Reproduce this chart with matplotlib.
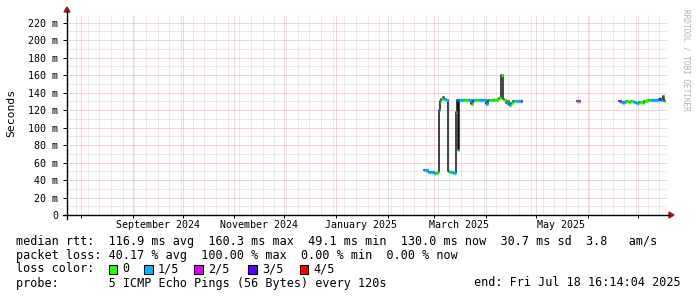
import matplotlib
matplotlib.use("Agg")
import matplotlib.pyplot as plt
import matplotlib.dates as mdates
from matplotlib.patches import Rectangle, Polygon
from matplotlib.lines import Line2D
import pandas as pd
import numpy as np

# ---------------- data ----------------
end_time = pd.Timestamp("2025-07-18 16:14:04")
span_days = 360

dates = [
    "2025-02-23", "2025-02-24", "2025-02-25", "2025-02-26", "2025-02-27", "2025-02-28",
    "2025-03-01", "2025-03-02", "2025-03-03",
    "2025-03-04 00:00", "2025-03-04 12:00", "2025-03-05", "2025-03-06", "2025-03-07", "2025-03-08",
    "2025-03-09", "2025-03-10", "2025-03-11", "2025-03-12", "2025-03-13",
    "2025-03-14 00:00", "2025-03-14 12:00", "2025-03-15 06:00", "2025-03-16",
    "2025-03-17", "2025-03-18", "2025-03-19", "2025-03-20", "2025-03-21", "2025-03-22",
    "2025-03-23", "2025-03-24", "2025-03-25", "2025-03-26", "2025-03-27", "2025-03-28",
    "2025-03-29", "2025-03-30", "2025-03-31", "2025-04-01", "2025-04-02", "2025-04-03",
    "2025-04-04", "2025-04-05", "2025-04-06", "2025-04-07", "2025-04-08", "2025-04-09",
    "2025-04-10", "2025-04-11", "2025-04-12", "2025-04-13", "2025-04-14", "2025-04-15",
    "2025-04-16", "2025-04-17", "2025-04-18", "2025-04-19", "2025-04-20", "2025-04-21",
    "2025-04-22",
    "2025-05-25 12:00", "2025-05-26 06:00", "2025-05-27",
    "2025-06-20", "2025-06-21", "2025-06-22", "2025-06-23", "2025-06-24", "2025-06-25",
    "2025-06-26", "2025-06-27", "2025-06-28", "2025-06-29", "2025-06-30", "2025-07-01",
    "2025-07-02", "2025-07-03", "2025-07-04", "2025-07-05", "2025-07-06", "2025-07-07",
    "2025-07-08", "2025-07-09", "2025-07-10", "2025-07-11", "2025-07-12", "2025-07-13",
    "2025-07-14", "2025-07-15", "2025-07-16", "2025-07-17",
]
median_ms = [
    51.5, 51.0, 49.5, 49.0, 49.0, 49.0,
    48.5, 48.5, 49.0,
    120.0, 130.0, 133.0, 134.5, 133.0, 132.0,
    50.0, 49.0, 49.0, 48.5, 48.0,
    118.0, 131.0, 74.0, 131.0,
    132.0, 132.0, 131.0, 131.0, 132.0, 131.0,
    127.0, 131.0, 131.0, 131.0, 132.0, 131.0,
    131.0, 132.0, 131.0, 127.0, 131.0, 132.0,
    132.0, 131.0, 131.0, 132.0, 133.0, 134.0,
    160.3, 133.0, 132.0, 128.0, 130.0, 126.0,
    128.0, 130.0, 130.0, 130.0, 130.0, 130.0,
    130.0,
    130.0, 130.0, 130.0,
    130.0, 129.0, 128.5, 129.0, 130.0, 129.5,
    129.0, 130.0, 129.0, 129.0, 128.5, 128.0,
    129.0, 129.5, 128.0, 130.0, 130.5, 131.0,
    131.0, 131.5, 131.5, 132.0, 132.0, 132.0,
    133.0, 132.0, 136.0, 130.0,
]
loss = [
    1, 1, 1, 1, 1, 1,
    1, 0, 0,
    1, 0, 0, 1, 1, 1,
    1, 0, 1, 1, 1,
    0, 1, 1, 1,
    1, 1, 0, 0, 1, 1,
    0, 1, 1, 0, 0, 1,
    1, 1, 1, 1, 1, 0,
    0, 1, 0, 0, 0, 0,
    0, 0, 0, 1, 0, 1,
    0, 1, 0, 1, 1, 1,
    3,
    4, 1, 2,
    2, 1, 1, 1, 0, 0,
    0, 0, 1, 1, 1, 1,
    0, 0, 1, 0, 0, 0,
    0, 1, 1, 1, 1, 1,
    3, 1, 0, 0,
]

y_ticks = [0, 20, 40, 60, 80, 100, 120, 140, 160, 180, 200, 220]
y_tick_labels = ["0", "20 m", "40 m", "60 m", "80 m", "100 m", "120 m",
                 "140 m", "160 m", "180 m", "200 m", "220 m"]
x_label_months = ["2024-09-01", "2024-11-01", "2025-01-01", "2025-03-01", "2025-05-01"]
x_label_texts = ["September 2024", "November 2024", "January 2025", "March 2025", "May 2025"]

loss_colors = {0: "#26ff00", 1: "#00b8ff", 2: "#dd00ff", 3: "#5500ff", 4: "#ff0000"}
loss_labels = ["0", "1/5", "2/5", "3/5", "4/5"]

legend_rtt = "median rtt:  116.9 ms avg  160.3 ms max  49.1 ms min  130.0 ms now  30.7 ms sd  3.8   am/s"
legend_loss = "packet loss: 40.17 % avg  100.00 % max  0.00 % min  0.00 % now"
legend_probe = "probe:       5 ICMP Echo Pings (56 Bytes) every 120s"
legend_end = "end: Fri Jul 18 16:14:04 2025"

# ---------------- figure ----------------
W, H = 697, 297
fig = plt.figure(figsize=(W / 100, H / 100), dpi=100)
fig.patch.set_facecolor("white")

def fx(x):
    return x / W

def fy(y):
    return 1 - y / H

X0, X1, Y0, Y1 = 67, 667, 215, 15
ax = fig.add_axes([fx(X0), fy(Y0), (X1 - X0) / W, (Y0 - Y1) / H])
ax.set_facecolor("white")

start_time = end_time - pd.Timedelta(days=span_days)
ax.set_xlim(mdates.date2num(start_time), mdates.date2num(end_time))
ylim_top = 228.6
ax.set_ylim(0, ylim_top)

for s in ax.spines.values():
    s.set_visible(False)

MONO = "DejaVu Sans Mono"
dot = (0, (1, 1))
minor_c = "#d6d6d6"
major_c = "#f2aaaa"

weeks = pd.date_range(start_time.normalize(), end_time, freq="W-MON")
for w in weeks:
    ax.axvline(mdates.date2num(w), color=minor_c, lw=0.72, ls=dot, zorder=0)
for v in np.arange(10, 230, 20):
    ax.axhline(v, color=minor_c, lw=0.72, ls=dot, zorder=0)
months = pd.date_range(start_time.normalize(), end_time, freq="MS")
for m in months:
    ax.axvline(mdates.date2num(m), color=major_c, lw=0.72, ls=dot, zorder=0.5)
for v in y_ticks[1:]:
    ax.axhline(v, color=major_c, lw=0.72, ls=dot, zorder=0.5)

ax.set_yticks(y_ticks)
ax.set_yticklabels(y_tick_labels, fontfamily=MONO, fontsize=7.2)
ax.tick_params(axis="y", length=3.2, width=0.72, pad=3, color="black")
ax.set_xticks([mdates.date2num(m) for m in months])
ax.set_xticklabels([])
ax.tick_params(axis="x", length=2, width=0.72, color="black")

px_per_ms = 200 / ylim_top
for mstr, lab in zip(x_label_months, x_label_texts):
    t = mdates.date2num(pd.Timestamp(mstr) + pd.Timedelta(days=15))
    ax.text(t, -10 / px_per_ms, lab, ha="center", va="center",
            fontfamily=MONO, fontsize=7.2, clip_on=False)

# ---------------- data drawing ----------------
tnum = mdates.date2num(pd.to_datetime(dates, format="mixed"))
vals = np.array(median_ms, dtype=float)
loss_arr = np.array(loss)
breaks = np.where(np.diff(tnum) > 1.6)[0] + 1
seg_idx = np.split(np.arange(len(tnum)), breaks)
for idx in seg_idx:
    ts = tnum[idx]
    vs = vals[idx]
    steps = np.append(np.diff(ts), 0.75)
    te = ts + steps
    xs = np.append(ts, te[-1])
    ys = np.append(vs, vs[-1])
    ax.step(xs, ys, where="post", color="#111111", lw=1.1, zorder=2)
    for t0, t1, v, l in zip(ts, te, vs, loss_arr[idx]):
        ax.plot([t0, t1], [v, v], color=loss_colors[int(l)], lw=2.4, zorder=3,
                solid_capstyle="butt")

# ---------------- axis lines and arrows ----------------
arrow_c = "#9b1b1b"
fig.add_artist(Line2D([fx(63), fx(669)], [fy(Y0), fy(Y0)], color="black", lw=1.0))
fig.add_artist(Line2D([fx(X0), fx(X0)], [fy(219), fy(11)], color="black", lw=1.0))
fig.add_artist(Polygon([[fx(669), fy(212)], [fx(674), fy(215)], [fx(669), fy(218)]],
                       closed=True, color=arrow_c, transform=fig.transFigure))
fig.add_artist(Polygon([[fx(64), fy(12)], [fx(67), fy(7)], [fx(70), fy(12)]],
                       closed=True, color=arrow_c, transform=fig.transFigure))

# ---------------- texts ----------------
fig.text(fx(11), fy(113), "Seconds", rotation=90, ha="center", va="center",
         fontfamily=MONO, fontsize=8.2)
fig.text(fx(686), fy(60), "RRDTOOL / TOBI OETIKER", rotation=270, ha="center", va="center",
         fontfamily=MONO, fontsize=5.6, color="#b4b4b4")

LFS = 8.5
charw = 0.602 * LFS * 100 / 72
fig.text(fx(16), fy(241), legend_rtt, ha="left", va="center", fontfamily=MONO, fontsize=LFS)
fig.text(fx(16), fy(255), legend_loss, ha="left", va="center", fontfamily=MONO, fontsize=LFS)
fig.text(fx(16), fy(269), "loss color:", ha="left", va="center", fontfamily=MONO, fontsize=LFS)
for i, lab in enumerate(loss_labels):
    col = 13 if i == 0 else 18 + 7 * (i - 1)
    bx = 16 + col * charw + 0.5 + (1.5 * i if i > 2 else 0)
    fig.add_artist(Rectangle((fx(bx), fy(269 + 4.5)), 8.5 / W, 9 / H,
                             transform=fig.transFigure, facecolor=loss_colors[i],
                             edgecolor="black", lw=0.8))
    fig.text(fx(bx - 0.5 + 2 * charw), fy(269), lab, ha="left", va="center",
             fontfamily=MONO, fontsize=LFS)
fig.text(fx(16), fy(283), legend_probe, ha="left", va="center", fontfamily=MONO, fontsize=LFS)
fig.text(fx(681), fy(283), legend_end, ha="right", va="center", fontfamily=MONO, fontsize=LFS)

fig.savefig("out.png", dpi=100, facecolor="white")
